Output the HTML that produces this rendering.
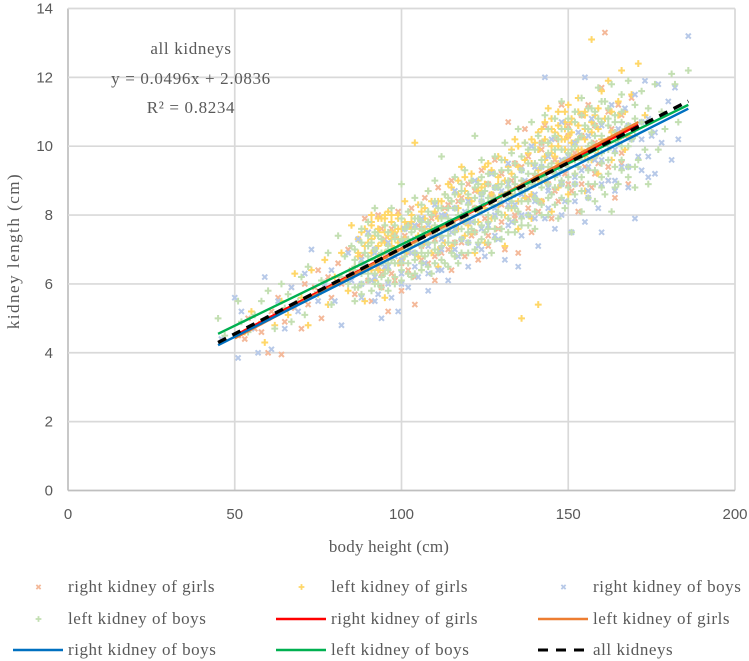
<!DOCTYPE html>
<html lang="en">
<head>
<meta charset="utf-8">
<title>Kidney length vs body height</title>
<style>
html,body{margin:0;padding:0;background:#fff;}
svg{display:block;}
text{font-family:"Liberation Serif",serif;fill:#595959;}
</style>
</head>
<body>
<svg id="chart" xmlns="http://www.w3.org/2000/svg" width="749" height="661" viewBox="0 0 749 661">
  <g id="grid"></g>
  <g id="marks"></g>
  <g id="trends"></g>
  <g id="ticks"></g>
  <g font-size="17" text-anchor="middle">
    <text x="191" y="54" letter-spacing="0.65">all kidneys</text>
    <text x="191" y="84" letter-spacing="0.65">y = 0.0496x + 2.0836</text>
    <text x="191" y="113" letter-spacing="0.65">R² = 0.8234</text>
  </g>
  <text x="389" y="552" font-size="17" text-anchor="middle" letter-spacing="0.2">body height (cm)</text>
  <text transform="translate(19,251) rotate(-90)" font-size="17" letter-spacing="1.5" text-anchor="middle">kidney length (cm)</text>
  <g id="legend"></g>
</svg>
<script>
const xTicks = [0, 50, 100, 150, 200];
const yTicks = [0, 2, 4, 6, 8, 10, 12, 14];

const rightGirls = [[51,4.5],[53,4.4],[54,5],[56,4.7],[58,4.6],[60,4],[61,5.2],[63,5.6],[64,3.95],[65,4.9],[67,5.9],[68,5.3],[70,4.7],[71,6],[72,5.4],[74,5.9],[75,6.4],[76,5],[78,6.2],[79,5.6],[81,6.6],[82,6],[84,7],[85,6.4],[86,5.7],[87,7.3],[88,6.8],[89,7.9],[90,6.1],[90,7.5],[91,5.5],[92,7],[93,6.5],[93,8],[94,5.9],[95,7.3],[95,6.8],[96,5.2],[97,7.6],[97,6.3],[98,7],[99,8.1],[100,6.6],[100,5.8],[101,7.4],[102,6.9],[103,8.2],[104,6.2],[104,5.4],[105,7.7],[106,7.1],[107,8.5],[108,6.6],[109,7.9],[110,7.3],[110,6.1],[111,8.8],[112,6.9],[113,8.2],[114,7.6],[115,6.4],[115,9],[116,7.2],[117,8.4],[118,7.8],[119,6.8],[120,8.9],[121,7.4],[122,8.2],[123,6.7],[124,9.3],[125,7.9],[126,7.1],[127,8.6],[128,9.6],[129,7.6],[130,8.3],[131,7],[132,10.7],[133,9],[134,8],[135,6.9],[136,9.4],[137,10.5],[138,8.5],[139,7.5],[140,9.1],[141,8.1],[142,10.1],[143,10.6],[144,8.9],[145,7.9],[146,9.6],[147,8.4],[148,11.2],[149,9.2],[150,10.3],[151,8.7],[152,9.8],[153,8.1],[154,10.9],[155,9.4],[156,11.2],[157,8.8],[158,10.1],[159,9.5],[160,11.7],[161,13.3],[162,9],[163,10.5],[164,8.5],[165,11.2],[166,9.8],[167,10.3],[168,8.9],[169,11.4]];
const rightGirlsColumns = [[94,6.3,7.6],[98,6.1,7.4],[102,6.4,7.7],[106,6.7,7.6],[110,6.8,8],[114,7,8.3],[118,7.2,8.5],[122,7.5,8.7],[126,7.4,8.9],[130,7.8,9.2],[134,7.9,9.5],[138,8.2,9.7],[142,8.4,9.9],[146,8.7,10.2],[150,8.9,10.6],[154,8.9,10.3],[158,9.2,10.6],[162,9.4,11],[166,9.5,10.9]];

const leftGirls = [[53,4.6],[55,5.2],[58,4.9],[59,4.3],[62,4.8],[64,5.5],[66,5.1],[68,6.3],[70,5.6],[72,4.8],[73,6.4],[75,5.7],[77,6.7],[78,5.4],[80,6.2],[82,6.9],[84,5.8],[85,7.7],[86,6.5],[87,6.9],[88,7.5],[89,5.5],[90,7.2],[91,6.4],[91,7.8],[92,7.4],[92,6.1],[93,7.6],[93,6.8],[94,7.9],[94,7.2],[95,6.4],[95,7.7],[95,5.6],[96,7.4],[96,8.1],[97,6.9],[97,7.8],[98,7.5],[98,6.2],[99,7.9],[99,7.2],[100,6.7],[100,7.6],[101,8.4],[102,7.2],[102,6.3],[103,7.8],[104,10.1],[104,6.9],[105,7.4],[106,8.1],[106,6.4],[107,7.6],[108,8.7],[109,6.9],[110,8.1],[110,7.4],[111,6.5],[112,8.4],[113,7.2],[114,8.9],[115,7.8],[116,6.8],[117,8.2],[118,9.4],[119,7.4],[120,8.5],[120,7.7],[121,9],[122,6.9],[123,8.1],[124,8.8],[125,7.2],[126,9.5],[127,8.4],[128,7.6],[129,9.1],[130,8.6],[131,7.1],[132,9.4],[133,8.2],[134,10.2],[135,7.6],[136,5],[136,9],[137,8.5],[138,9.8],[139,7.9],[140,10.1],[141,5.4],[141,9],[142,10.5],[142,8.4],[143,9.7],[144,10.1],[144,11.1],[145,9.3],[145,8.1],[146,10.4],[146,9.7],[147,11],[147,8.8],[148,10.2],[148,9.5],[149,10.7],[149,9.9],[150,10.3],[150,11.2],[150,8.6],[151,9.7],[151,10.8],[152,10.1],[152,9.2],[153,10.6],[153,11.4],[154,9.9],[154,10.3],[155,11],[155,8.7],[156,10.5],[157,13.1],[157,9.6],[158,10.9],[159,9.2],[160,11.6],[160,10.2],[162,11.9],[163,9.6],[165,10.9],[166,12.2],[168,10.3],[169,11.5],[171,12.4],[173,10.9]];
const leftGirlsColumns = [[87,6.8,7.3],[89,6.5,7.1,7.6],[91,6.9,7.3,7.7,8],[93,6.4,7.1,7.5,7.9],[95,6.9,7.2,7.5,7.9,8],[97,7.1,7.3,7.5,8],[99,6.6,7.3,7.6,8],[101,6.9,7.3,7.8],[103,7.1,7.6,8],[105,6.8,7.9,8.3],[107,7.2,7.9,8.2],[109,7.6,8.4],[111,7,7.9,8.4],[113,7.6,8,8.6],[115,7.1,8.4,8.8],[117,7.6,8.6,9],[119,8,8.7,9.1],[121,7.5,8.4,9.2],[123,7.8,8.7,9],[125,8.2,8.9,9.4],[127,7.9,8.6,9.3],[129,8.3,8.9,9.7],[131,8,9,9.6],[133,8.6,9.2,9.9],[135,8.4,9.4,10],[137,8.9,9.6,10.1],[139,8.6,9.5,10.2],[141,9.3,9.9,10.4],[143,9,9.6,10.2,10.7],[145,9.8,10,10.5,10.8],[147,9.5,10,10.3,10.6],[149,9.9,10.2,10.5,11],[151,9.6,10.1,10.4,10.7],[153,9.9,10.2,10.6,11],[155,9.7,10.2,10.5,10.9],[157,10,10.4,10.7],[159,9.8,10.5,11.1],[161,10.1,10.8],[163,10.4,11],[165,10.2,11.3],[167,9.9,11]];

const rightBoys = [[46,4.4],[50,5.6],[51,3.85],[52,5.2],[55,4.7],[57,4],[59,6.2],[60,5],[61,4.1],[63,5.5],[65,4.7],[67,5.9],[69,5.2],[71,6.3],[73,7],[75,5.5],[77,6],[79,6.4],[80,5.5],[82,4.8],[84,6.9],[85,6.1],[87,7.3],[88,5.6],[89,6.6],[90,7.5],[91,6.1],[92,7],[93,5.7],[94,5],[95,6.5],[96,7.2],[97,5.6],[98,6.8],[99,5.2],[100,6.3],[101,7.6],[102,5.9],[103,6.9],[104,7.3],[105,6.2],[106,7.9],[107,6.6],[108,5.8],[109,7.4],[110,8.3],[111,6.4],[112,7],[113,8],[114,6.1],[115,7.5],[116,8.7],[117,6.8],[118,7.3],[119,8.1],[120,6.5],[121,7.8],[122,9],[123,7.1],[124,8.4],[125,6.8],[126,7.7],[127,9.2],[128,8.2],[129,7.3],[130,8.7],[131,6.7],[132,9.5],[133,7.8],[134,8.3],[135,6.5],[136,7.4],[137,9],[138,8],[139,10],[140,8.6],[141,7.1],[142,9.4],[143,12],[143,7.9],[144,8.8],[145,10.2],[146,7.6],[147,9.2],[148,10.7],[149,8.4],[150,9.7],[151,7.5],[152,8.9],[153,10.4],[154,9.3],[155,12],[155,7.8],[156,8.5],[157,10.8],[158,9.6],[159,8.2],[160,7.5],[161,10.1],[162,9],[163,11.2],[164,8.7],[165,10.5],[166,9.4],[167,11.1],[168,8.8],[169,10.2],[170,7.9],[170,11.5],[171,9.7],[172,10.7],[173,11.9],[174,9.1],[175,10.3],[176,9.2],[177,11.8],[178,10.1],[180,11.3],[181,9.6],[182,11.7],[183,10.2],[186,13.2]];
const rightBoysColumns = [[88,6,6.7],[92,6.2,6.9,5.5],[96,6,6.5,6.9],[100,6,6.7,7.2],[104,6.5,6.9,7.7],[108,6.3,7.1,7.7],[112,6.4,7.3,8],[116,7,7.6,8.2],[120,7.2,7.8,8.4],[124,7,7.6,8.6],[128,7.4,8,8.8],[132,7.7,8.3,8.9],[136,8,8.6,9.3],[140,7.9,8.4,9.4],[144,8.2,8.7,9.7],[148,8,8.9,9.6],[152,8.4,9.1,10.1],[156,8.7,9.4,10.3],[160,8.9,9.6,10.6],[164,9,9.9],[168,9.4,10.6],[172,9.3,10.2],[174,9.7,10.8],[176,10.4]];

const leftBoys = [[45,5],[47,4.5],[51,5.5],[52,4.9],[54,4.6],[56,5.1],[58,5.5],[60,5.8],[62,4.7],[64,6],[65,5.3],[66,5.7],[67,4.9],[69,5.5],[70,6.2],[71,5.1],[72,6.5],[74,5.7],[76,6.1],[78,6.9],[79,5.4],[81,7.4],[82,6.2],[83,6.8],[84,6],[85,7.1],[86,6.5],[87,5.9],[88,7.6],[89,6.9],[90,6.3],[90,7.8],[91,7.2],[91,5.8],[92,6.6],[92,8.2],[93,7.4],[93,6],[94,6.9],[95,7.7],[95,6.3],[96,7.1],[96,5.8],[97,8.2],[97,6.7],[98,7.4],[98,6],[99,7],[100,8.9],[100,6.4],[101,7.6],[101,6.8],[102,8.1],[102,7.1],[103,6.2],[103,7.5],[104,8.5],[104,6.7],[105,7.9],[105,7.2],[106,6.4],[106,8.3],[107,7.5],[107,6.8],[108,8.7],[108,7.2],[109,6.3],[109,8],[110,7.5],[110,9],[111,6.9],[111,8.2],[112,7.6],[112,9.7],[113,6.6],[113,8.6],[114,7.9],[114,7.2],[115,8.4],[115,6.9],[116,9.1],[116,7.5],[117,8],[117,6.6],[118,8.7],[118,7.3],[119,9.3],[119,7.8],[120,8.3],[120,6.9],[121,9],[121,7.6],[122,8.5],[122,10.3],[123,7.2],[123,8.9],[124,8.1],[124,9.6],[125,7.5],[125,8.7],[126,9.2],[126,7.8],[127,8.3],[127,6.9],[128,9.7],[128,7.6],[129,8.8],[129,8.1],[130,9.3],[130,7.3],[131,8.6],[131,10.1],[132,7.9],[132,9],[133,8.4],[133,9.8],[134,7.5],[134,8.9],[135,10.5],[135,8.1],[136,9.3],[136,7.7],[137,8.7],[137,10.1],[138,9.5],[138,8],[139,10.7],[139,8.9],[140,9.2],[140,7.6],[141,10.3],[141,8.4],[142,9.6],[142,8.8],[143,10.9],[143,9.1],[144,8],[144,10.1],[145,9.5],[145,8.6],[146,10.8],[146,9.2],[147,7.9],[147,10.2],[148,8.9],[148,11.3],[149,9.6],[149,8.2],[150,10.5],[150,9.1],[151,7.5],[151,9.9],[152,11],[152,8.6],[153,10.2],[153,9.4],[154,8.1],[154,11.4],[155,9.8],[155,10.6],[156,8.9],[156,9.3],[157,11.1],[157,10.1],[158,8.4],[158,9.7],[159,10.8],[159,11.7],[160,9.1],[160,10.3],[161,8.6],[161,11.3],[162,9.9],[162,10.6],[163,8.1],[163,11.8],[164,9.4],[164,10.9],[165,10.1],[165,8.9],[166,11.5],[166,9.6],[167,10.5],[168,9.1],[168,11.9],[169,10.2],[170,11.2],[170,8.8],[171,9.6],[172,10.7],[172,11.6],[173,9.9],[174,8.9],[174,11.1],[175,10.4],[176,11.8],[177,9.9],[178,11],[179,10.5],[181,12.1],[182,11.8],[183,10.7],[186,12.2]];
const leftBoysColumns = [[86,5.9,6.4,6.7,7,5.5],[88,6,6.3,6.6,7.2,5.7],[90,6.1,6.5,6.8,7.1,7.4],[92,6,6.3,6.7,7,7.5],[94,6.2,6.6,6.9,7.3,5.9],[96,6.1,6.4,6.6,7,7.5],[98,6.2,6.6,6.9,7.3,7.7],[100,6.1,6.6,7,7.3,7.9],[102,6.3,6.6,7,7.3,7.7],[104,6.3,6.9,7.2,7.6,7.9],[106,6.6,6.9,7.1,7.6,7.8],[108,6.5,6.9,7.5,7.8,8.1],[110,6.6,7,7.2,7.7,8.4],[112,6.7,7.1,7.4,7.9,8.2],[114,6.5,7.4,7.6,8.2,8.5],[116,6.8,7.2,7.7,8.2,8.6],[118,6.9,7.6,8,8.4,8.9],[120,7.2,7.5,7.9,8.1,8.6],[122,7,7.5,7.8,8.2,8.8],[124,7.3,7.7,8.4,8.6,9.1],[126,7.2,7.6,8,8.5,8.9],[128,7.3,7.9,8.5,8.8,9.2],[130,7.6,8,8.4,8.9,9.6],[132,7.5,8.2,8.5,8.8,9.3],[134,7.8,8.2,8.6,9.1,9.5],[136,7.9,8.4,8.7,9,9.7],[138,7.7,8.4,8.8,9.2,9.9],[140,8.1,8.5,8.9,9.5,9.9],[142,8,8.3,9.1,9.4,10.1],[144,8.5,8.9,9.4,9.8,10.5],[146,8.3,8.8,9.1,9.9,10.3],[148,8.5,9,9.3,9.9,10.5],[150,8.4,8.8,9.4,9.8,10.8],[152,8.9,9.2,9.6,10,10.7],[154,8.7,9.1,9.6,10.3,10.9],[156,8.5,9.6,10,10.5,11.1],[158,8.9,9.3,10.3,10.6,11],[160,8.8,9.5,9.8,10.7,11.3],[162,9.2,9.6,10.2,10.8,11.1],[164,8.8,9.8,10.4,10.7],[166,9.3,10,10.7,11],[168,9.4,10,10.6],[170,9.4,10.3,10.8]];

const trendXRightGirls = [50, 171];
const trendYRightGirls = [4.5, 10.62];
const trendXLeftGirls = [50, 171];
const trendYLeftGirls = [4.42, 10.7];
const trendXRightBoys = [45, 186];
const trendYRightBoys = [4.22, 11.09];
const trendXLeftBoys = [45, 186];
const trendYLeftBoys = [4.55, 11.2];
const trendXAll = [45, 186];
const trendYAll = [4.3, 11.31];

const NS = 'http://www.w3.org/2000/svg';
const xScale = v => 68 + v * 3.335;
const yScale = v => 490.5 - v * 34.43;

function svgEl(tag, parent) {
  const el = document.createElementNS(NS, tag);
  parent.appendChild(el);
  return el;
}

const gridG = document.getElementById('grid');
xTicks.forEach(t => {
  const l = svgEl('line', gridG);
  l.setAttribute('x1', xScale(t));
  l.setAttribute('x2', xScale(t));
  l.setAttribute('y1', yScale(14));
  l.setAttribute('y2', yScale(0));
  l.setAttribute('stroke', t === 0 ? '#bfbfbf' : '#d9d9d9');
  l.setAttribute('stroke-width', '1.7');
  
  
});
yTicks.forEach(t => {
  const l = svgEl('line', gridG);
  l.setAttribute('x1', xScale(0));
  l.setAttribute('x2', xScale(200));
  l.setAttribute('y1', yScale(t));
  l.setAttribute('y2', yScale(t));
  l.setAttribute('stroke', t === 0 ? '#bfbfbf' : '#d9d9d9');
  l.setAttribute('stroke-width', '1.7');
  
  
});

const tickG = document.getElementById('ticks');
xTicks.forEach(t => {
  const e = svgEl('text', tickG);
  e.setAttribute('x', xScale(t));
  e.setAttribute('y', 519);
  e.setAttribute('text-anchor', 'middle');
  e.setAttribute('font-size', '15');
  e.setAttribute('style', 'font-family:"Liberation Sans",sans-serif');
  
  
  e.textContent = t;
});
yTicks.forEach(t => {
  const e = svgEl('text', tickG);
  e.setAttribute('x', 53);
  e.setAttribute('y', yScale(t) + 5);
  e.setAttribute('text-anchor', 'end');
  e.setAttribute('font-size', '15');
  e.setAttribute('style', 'font-family:"Liberation Sans",sans-serif');
  
  
  e.textContent = t;
});

function markerPath(cx, cy, shape, scale) {
  if (shape === 'x') {
    const r = 2.5 * scale;
    return `M${cx-r} ${cy-r}L${cx+r} ${cy+r}M${cx-r} ${cy+r}L${cx+r} ${cy-r}`;
  }
  const r = 3.4 * scale;
  return `M${cx-r} ${cy}H${cx+r}M${cx} ${cy-r}V${cy+r}`;
}

function drawSeries(points, columns, color, shape, name) {
  const g = svgEl('g', document.getElementById('marks'));
  
  
  const all = points.slice();
  columns.forEach(c => c.slice(1).forEach(y => all.push([c[0], y])));
  all.forEach(p => {
    const m = svgEl('path', g);
    m.setAttribute('d', markerPath(xScale(p[0]), yScale(p[1]), shape, 1));
    m.setAttribute('stroke', color);
    m.setAttribute('stroke-width', '2');
    m.setAttribute('fill', 'none');
    
    
  });
}

const orangeMark = '#f4b99a';
const goldMark = '#ffd768';
const blueMark = '#b7c9e8';
const greenMark = '#c3dfb2';
drawSeries(rightGirls, rightGirlsColumns, orangeMark, 'x', 'right-kidney-of-girls-points');
drawSeries(leftGirls, leftGirlsColumns, goldMark, '+', 'left-kidney-of-girls-points');
drawSeries(rightBoys, rightBoysColumns, blueMark, 'x', 'right-kidney-of-boys-points');
drawSeries(leftBoys, leftBoysColumns, greenMark, '+', 'left-kidney-of-boys-points');

function drawTrend(xs, ys, color, width, dash, name) {
  const l = svgEl('line', document.getElementById('trends'));
  l.setAttribute('x1', xScale(xs[0]));
  l.setAttribute('y1', yScale(ys[0]));
  l.setAttribute('x2', xScale(xs[1]));
  l.setAttribute('y2', yScale(ys[1]));
  l.setAttribute('stroke', color);
  l.setAttribute('stroke-width', width);
  if (dash) l.setAttribute('stroke-dasharray', dash);
  
  
}
drawTrend(trendXRightGirls, trendYRightGirls, '#ff0000', 2.4, null, 'trend-right-kidney-of-girls');
drawTrend(trendXLeftGirls, trendYLeftGirls, '#ed7d31', 2.4, null, 'trend-left-kidney-of-girls');
drawTrend(trendXRightBoys, trendYRightBoys, '#0070c0', 2.4, null, 'trend-right-kidney-of-boys');
drawTrend(trendXLeftBoys, trendYLeftBoys, '#00b050', 2.4, null, 'trend-left-kidney-of-boys');
drawTrend(trendXAll, trendYAll, '#000000', 3.4, '9 7', 'trend-all-kidneys');

const legendLabels = ['right kidney of girls', 'left kidney of girls', 'right kidney of boys', 'left kidney of boys', 'right kidney of girls', 'left kidney of girls', 'right kidney of boys', 'left kidney of boys', 'all kidneys'];
const legendColors = [orangeMark, goldMark, blueMark, greenMark, '#ff0000', '#ed7d31', '#0070c0', '#00b050', '#000000'];
const legendShapes = ['x', '+', 'x', '+', 'line', 'line', 'line', 'line', 'dash'];
const legendColX = [68, 331, 593];
const legendRowY = [587, 619, 650];
const legendG = document.getElementById('legend');
legendLabels.forEach((label, i) => {
  const tx = legendColX[i % 3];
  const cy = legendRowY[Math.floor(i / 3)];
  const g = svgEl('g', legendG);
  
  
  const s = legendShapes[i];
  if (s === 'x' || s === '+') {
    const m = svgEl('path', g);
    m.setAttribute('d', markerPath(tx - 29.5, cy, s, 0.85));
    m.setAttribute('stroke', legendColors[i]);
    m.setAttribute('stroke-width', '1.8');
    m.setAttribute('fill', 'none');
    
    
  } else {
    const l = svgEl('line', g);
    l.setAttribute('x1', tx - 55);
    l.setAttribute('x2', tx - 5);
    l.setAttribute('y1', cy);
    l.setAttribute('y2', cy);
    l.setAttribute('stroke', legendColors[i]);
    l.setAttribute('stroke-width', s === 'dash' ? 3 : 2.4);
    if (s === 'dash') l.setAttribute('stroke-dasharray', '10 8');
    
    
  }
  const t = svgEl('text', g);
  t.setAttribute('x', tx);
  t.setAttribute('y', cy + 5);
  t.setAttribute('font-size', '17');
  t.setAttribute('letter-spacing', '0.55');
  
  
  t.textContent = label;
});
</script>
</body>
</html>
